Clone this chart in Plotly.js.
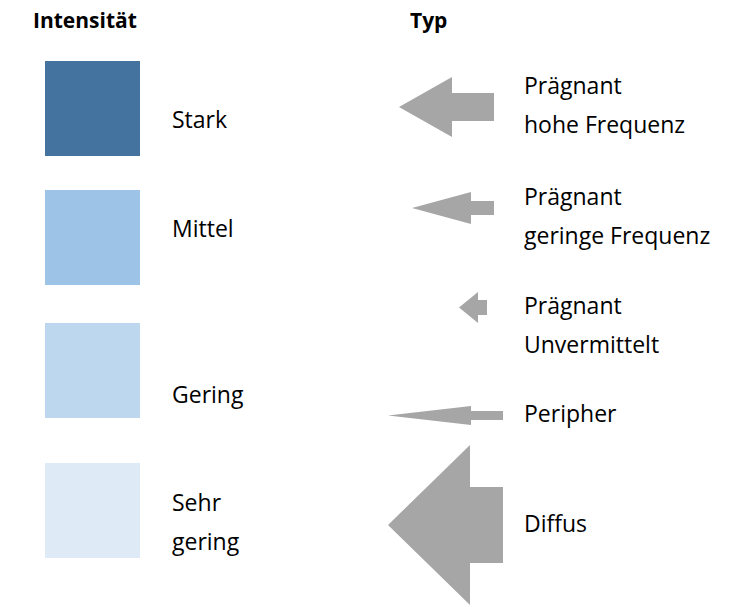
<!DOCTYPE html>
<html><head><meta charset="utf-8">
<script src="https://cdn.plot.ly/plotly-3.0.1.min.js"></script>
<style>html,body{margin:0;padding:0;background:#fff}#chart{width:748px;height:607px}</style>
</head><body><div id="chart"></div>
<script>
// Intensität (colour legend)
var intensityLabels = [["Stark"], ["Mittel"], ["Gering"], ["Sehr", "gering"]];
var intensityColors = ["#44739F", "#9DC3E6", "#BDD7EE", "#DEEBF7"];
var intensityRow = [108.5, 237.5, 370.5, 510.5];
var intensityLabelRow = [119, 228, 394, 521];

// Typ (arrow legend)
var typeLabels = [["Prägnant", "hohe Frequenz"], ["Prägnant", "geringe Frequenz"], ["Prägnant", "Unvermittelt"], ["Peripher"], ["Diffus"]];
var typeRow = [107, 208, 307.5, 415.5, 525];
var typeLabelRow = [104.5, 215, 324, 413, 523];
var arrowTip = [399, 412, 459, 388, 388];
var arrowHeadBase = [452, 471, 478, 471, 470];
var arrowEnd = [494, 494, 487, 503, 503];
var arrowHeadHalf = [30, 16, 15.5, 9.5, 80];
var arrowShaftHalf = [14, 7, 7.5, 4.5, 38];

var squareX = 92.5, squareHalf = 47.5;
var arrowColor = "#A6A6A6";
var font = "'Open Sans', 'Noto Sans', sans-serif";
var fs = 23, lineGap = 39;

var traces = [];
intensityColors.forEach(function (c, i) {
  var y = intensityRow[i];
  traces.push({
    type: "scatter", mode: "lines", fill: "toself", fillcolor: c,
    line: {width: 0, color: c}, hoverinfo: "skip", showlegend: false,
    x: [squareX - squareHalf, squareX + squareHalf, squareX + squareHalf, squareX - squareHalf, squareX - squareHalf],
    y: [y - squareHalf, y - squareHalf, y + squareHalf, y + squareHalf, y - squareHalf]
  });
});
typeRow.forEach(function (y, i) {
  var h = arrowHeadHalf[i], s = arrowShaftHalf[i];
  traces.push({
    type: "scatter", mode: "lines", fill: "toself", fillcolor: arrowColor,
    line: {width: 0, color: arrowColor}, hoverinfo: "skip", showlegend: false,
    x: [arrowTip[i], arrowHeadBase[i], arrowHeadBase[i], arrowEnd[i], arrowEnd[i], arrowHeadBase[i], arrowHeadBase[i], arrowTip[i]],
    y: [y, y - h, y - s, y - s, y + s, y + s, y + h, y]
  });
});

var ann = [];
function addText(x, y, t, bold, size) {
  ann.push({x: x, y: y, xref: "x", yref: "y", text: bold ? "<b>" + t + "</b>" : t,
    showarrow: false, xanchor: bold ? "center" : "left", yanchor: "middle",
    font: {family: font, size: size || fs, color: "#000"}});
}
addText(85, 20, "Intensität", true, 21);
addText(428, 20, "Typ", true, 21);
intensityLabels.forEach(function (lines, i) {
  var y0 = intensityLabelRow[i] - (lines.length - 1) * lineGap / 2;
  lines.forEach(function (t, k) { addText(170, y0 + k * lineGap, t, false); });
});
typeLabels.forEach(function (lines, i) {
  var y0 = typeLabelRow[i] - (lines.length - 1) * lineGap / 2;
  lines.forEach(function (t, k) { addText(522, y0 + k * lineGap, t, false); });
});

var layout = {
  width: 748, height: 607, margin: {l: 0, r: 0, t: 0, b: 0},
  paper_bgcolor: "#fff", plot_bgcolor: "#fff",
  xaxis: {range: [0, 748], visible: false, fixedrange: true},
  yaxis: {range: [607, 0], visible: false, fixedrange: true},
  annotations: ann, showlegend: false
};
Plotly.newPlot("chart", traces, layout, {displayModeBar: false, staticPlot: true});
</script></body></html>
